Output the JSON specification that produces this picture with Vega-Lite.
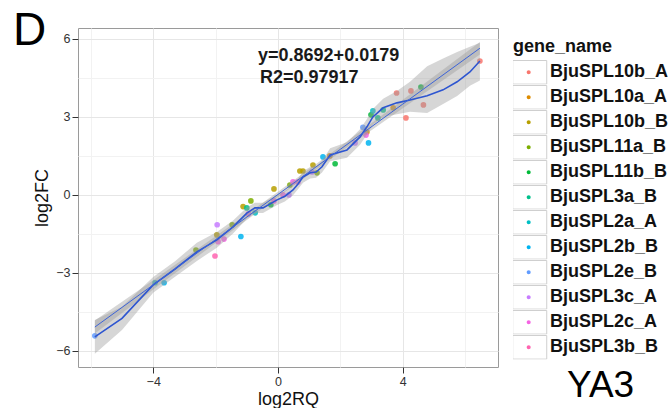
{
  "$schema": "https://vega.github.io/schema/vega-lite/v6.json",
  "width": 420,
  "height": 339,
  "autosize": "none",
  "padding": {"left": 78, "top": 28, "right": 173, "bottom": 41},
  "background": "white",
  "config": {
    "font": "Liberation Sans",
    "view": {"stroke": "#9a9a9a", "strokeWidth": 1},
    "axis": {
      "domain": false,
      "labelFont": "Liberation Sans",
      "labelFontSize": 12.5,
      "labelColor": "#333333",
      "tickColor": "#333333",
      "tickSize": 6,
      "labelPadding": 2,
      "titleFont": "Liberation Sans",
      "titleFontSize": 18,
      "titleFontWeight": "normal",
      "titleColor": "#111111",
      "labelOverlap": false,
      "labelFlush": false,
      "gridWidth": 1
    }
  },
  "datasets": {
    "points": [
      {"gene_name": "BjuSPL2e_B", "x": -5.87, "y": -5.42},
      {"gene_name": "BjuSPL2a_A", "x": -3.94, "y": -3.38},
      {"gene_name": "BjuSPL2b_B", "x": -3.65, "y": -3.38},
      {"gene_name": "BjuSPL11a_B", "x": -2.63, "y": -2.12},
      {"gene_name": "BjuSPL3c_A", "x": -1.95, "y": -1.15},
      {"gene_name": "BjuSPL10b_B", "x": -1.96, "y": -1.54},
      {"gene_name": "BjuSPL2c_A", "x": -1.92, "y": -1.8},
      {"gene_name": "BjuSPL2c_A", "x": -1.73, "y": -1.7},
      {"gene_name": "BjuSPL3b_B", "x": -2.02, "y": -2.35},
      {"gene_name": "BjuSPL11a_B", "x": -1.47, "y": -1.15},
      {"gene_name": "BjuSPL2b_B", "x": -1.19, "y": -1.6},
      {"gene_name": "BjuSPL10b_B", "x": -1.12, "y": -0.45},
      {"gene_name": "BjuSPL11a_B", "x": -0.87, "y": -0.23},
      {"gene_name": "BjuSPL3a_B", "x": -1.0, "y": -0.5},
      {"gene_name": "BjuSPL2c_A", "x": -0.95, "y": -0.73},
      {"gene_name": "BjuSPL2a_A", "x": -0.73, "y": -0.69},
      {"gene_name": "BjuSPL11b_B", "x": -0.23, "y": -0.38},
      {"gene_name": "BjuSPL2c_A", "x": -0.13, "y": -0.23},
      {"gene_name": "BjuSPL10b_B", "x": -0.13, "y": 0.23},
      {"gene_name": "BjuSPL2c_A", "x": 0.16, "y": 0.0},
      {"gene_name": "BjuSPL3c_A", "x": 0.35, "y": 0.0},
      {"gene_name": "BjuSPL11a_B", "x": 0.38, "y": 0.38},
      {"gene_name": "BjuSPL2c_A", "x": 0.48, "y": 0.5},
      {"gene_name": "BjuSPL2c_A", "x": 0.64, "y": 0.5},
      {"gene_name": "BjuSPL10b_B", "x": 0.7, "y": 0.92},
      {"gene_name": "BjuSPL10b_B", "x": 0.8, "y": 0.92},
      {"gene_name": "BjuSPL10b_B", "x": 1.12, "y": 1.15},
      {"gene_name": "BjuSPL3c_A", "x": 1.09, "y": 0.88},
      {"gene_name": "BjuSPL11a_B", "x": 1.25, "y": 0.85},
      {"gene_name": "BjuSPL2b_B", "x": 1.44, "y": 1.46},
      {"gene_name": "BjuSPL10a_A", "x": 1.66, "y": 1.5},
      {"gene_name": "BjuSPL11b_B", "x": 1.83, "y": 1.2},
      {"gene_name": "BjuSPL3c_A", "x": 2.47, "y": 2.0},
      {"gene_name": "BjuSPL2e_B", "x": 2.72, "y": 2.6},
      {"gene_name": "BjuSPL10a_A", "x": 2.85, "y": 2.42},
      {"gene_name": "BjuSPL2c_A", "x": 2.82, "y": 2.3},
      {"gene_name": "BjuSPL2b_B", "x": 2.9, "y": 2.0},
      {"gene_name": "BjuSPL11b_B", "x": 2.98, "y": 3.08},
      {"gene_name": "BjuSPL2a_A", "x": 3.04, "y": 3.23},
      {"gene_name": "BjuSPL3a_B", "x": 3.2, "y": 2.96},
      {"gene_name": "BjuSPL3a_B", "x": 3.37, "y": 3.27},
      {"gene_name": "BjuSPL10a_A", "x": 3.69, "y": 3.35},
      {"gene_name": "BjuSPL10b_A", "x": 3.8, "y": 3.92},
      {"gene_name": "BjuSPL10b_A", "x": 4.26, "y": 4.0},
      {"gene_name": "BjuSPL10b_A", "x": 4.1, "y": 2.96},
      {"gene_name": "BjuSPL11b_B", "x": 4.58, "y": 4.15},
      {"gene_name": "BjuSPL10b_A", "x": 4.66, "y": 3.46},
      {"gene_name": "BjuSPL10b_A", "x": 6.47, "y": 5.15}
    ],
    "loess": [
      {"x": -5.87, "fit": -5.46, "lo": -6.11, "hi": -4.81},
      {"x": -5.0, "fit": -4.75, "lo": -5.2, "hi": -4.3},
      {"x": -4.0, "fit": -3.46, "lo": -3.76, "hi": -3.16},
      {"x": -3.3, "fit": -2.85, "lo": -3.15, "hi": -2.55},
      {"x": -2.6, "fit": -2.19, "lo": -2.54, "hi": -1.84},
      {"x": -1.96, "fit": -1.73, "lo": -2.03, "hi": -1.43},
      {"x": -1.44, "fit": -1.23, "lo": -1.48, "hi": -0.98},
      {"x": -1.0, "fit": -0.7, "lo": -0.92, "hi": -0.48},
      {"x": -0.74, "fit": -0.5, "lo": -0.7, "hi": -0.3},
      {"x": -0.48, "fit": -0.5, "lo": -0.7, "hi": -0.3},
      {"x": -0.03, "fit": -0.19, "lo": -0.39, "hi": 0.01},
      {"x": 0.22, "fit": -0.05, "lo": -0.25, "hi": 0.15},
      {"x": 0.48, "fit": 0.19, "lo": -0.01, "hi": 0.39},
      {"x": 0.64, "fit": 0.42, "lo": 0.22, "hi": 0.62},
      {"x": 0.8, "fit": 0.69, "lo": 0.47, "hi": 0.91},
      {"x": 1.03, "fit": 0.85, "lo": 0.63, "hi": 1.07},
      {"x": 1.22, "fit": 0.88, "lo": 0.66, "hi": 1.1},
      {"x": 1.41, "fit": 1.08, "lo": 0.86, "hi": 1.3},
      {"x": 1.67, "fit": 1.54, "lo": 1.29, "hi": 1.79},
      {"x": 2.21, "fit": 1.73, "lo": 1.43, "hi": 2.03},
      {"x": 2.63, "fit": 2.23, "lo": 1.93, "hi": 2.53},
      {"x": 2.85, "fit": 2.62, "lo": 2.32, "hi": 2.92},
      {"x": 3.04, "fit": 3.0, "lo": 2.7, "hi": 3.3},
      {"x": 3.37, "fit": 3.35, "lo": 3.0, "hi": 3.7},
      {"x": 3.81, "fit": 3.54, "lo": 3.1, "hi": 4.0},
      {"x": 4.23, "fit": 3.65, "lo": 3.2, "hi": 4.35},
      {"x": 4.78, "fit": 3.81, "lo": 3.15, "hi": 4.95},
      {"x": 5.29, "fit": 4.04, "lo": 3.5, "hi": 5.25},
      {"x": 5.74, "fit": 4.35, "lo": 3.8, "hi": 5.5},
      {"x": 6.15, "fit": 4.73, "lo": 4.2, "hi": 5.7},
      {"x": 6.47, "fit": 5.15, "lo": 4.4, "hi": 5.85}
    ],
    "linear": [
      {"x": -5.87, "fit": -5.084, "lo": -5.33, "hi": -4.83},
      {"x": -4.0, "fit": -3.459, "lo": -3.64, "hi": -3.28},
      {"x": -2.0, "fit": -1.72, "lo": -1.85, "hi": -1.59},
      {"x": 0.0, "fit": 0.018, "lo": -0.08, "hi": 0.12},
      {"x": 2.0, "fit": 1.756, "lo": 1.65, "hi": 1.87},
      {"x": 4.0, "fit": 3.495, "lo": 3.33, "hi": 3.66},
      {"x": 6.47, "fit": 5.642, "lo": 5.4, "hi": 5.88}
    ]
  },
  "layer": [
    {
      "data": {"name": "points"},
      "mark": {"type": "circle", "size": 32, "opacity": 0.85},
      "encoding": {
        "x": {
          "field": "x", "type": "quantitative",
          "scale": {"domain": [-6.41, 7.05], "nice": false, "zero": false},
          "axis": {
            "title": "log2RQ",
            "values": [-6, -4, -2, 0, 2, 4, 6],
            "labelExpr": "datum.value % 4 === 0 ? datum.label : ''",
            "tickOpacity": {"condition": {"test": "datum.value % 4 === 0", "value": 1}, "value": 0},
            "gridColor": {"condition": {"test": "datum.value % 4 === 0", "value": "#e6e6e6"}, "value": "#f2f2f2"},
            "titlePadding": 3
          }
        },
        "y": {
          "field": "y", "type": "quantitative",
          "scale": {"domain": [-6.62, 6.42], "nice": false, "zero": false},
          "axis": {
            "title": "log2FC",
            "values": [-6, -4.5, -3, -1.5, 0, 1.5, 3, 4.5, 6],
            "labelExpr": "datum.value % 3 === 0 ? datum.label : ''",
            "tickOpacity": {"condition": {"test": "datum.value % 3 === 0", "value": 1}, "value": 0},
            "gridColor": {"condition": {"test": "datum.value % 3 === 0", "value": "#e6e6e6"}, "value": "#f2f2f2"},
            "titlePadding": 4
          }
        },
        "color": {
          "field": "gene_name", "type": "nominal",
          "sort": ["BjuSPL10b_A", "BjuSPL10a_A", "BjuSPL10b_B", "BjuSPL11a_B", "BjuSPL11b_B", "BjuSPL3a_B", "BjuSPL2a_A", "BjuSPL2b_B", "BjuSPL2e_B", "BjuSPL3c_A", "BjuSPL2c_A", "BjuSPL3b_B"],
          "scale": {"range": ["#F8766D", "#DE8C00", "#B79F00", "#7CAE00", "#00BA38", "#00C08B", "#00BFC4", "#00B4F0", "#619CFF", "#C77CFF", "#F564E3", "#FF64B0"]},
          "legend": {
            "orient": "none", "legendX": 435, "legendY": 10,
            "title": " ", "titleFont": "Liberation Sans", "titleFontSize": 18, "titleFontWeight": "bold", "titleColor": "#111111", "titlePadding": 4,
            "labelFont": "Liberation Sans", "labelFontSize": 18, "labelFontWeight": "bold", "labelColor": "#111111", "labelOffset": 12, "labelExpr": "''",
            "symbolType": "M-1.085,-1.0M1.8,1.0M0.1,0A0.17,0.17 0 1,0 0.44,0A0.17,0.17 0 1,0 0.1,0Z",
            "symbolSize": 557, "symbolStrokeWidth": 1, "symbolOpacity": 1,
            "clipHeight": 24.6, "rowPadding": 0
          }
        }
      }
    },
    {
      "data": {"name": "loess"},
      "mark": {"type": "area", "color": "#999999", "opacity": 0.4},
      "encoding": {
        "x": {"field": "x", "type": "quantitative"},
        "y": {"field": "lo", "type": "quantitative"},
        "y2": {"field": "hi"}
      }
    },
    {
      "data": {"name": "linear"},
      "mark": {"type": "area", "color": "#999999", "opacity": 0.4},
      "encoding": {
        "x": {"field": "x", "type": "quantitative"},
        "y": {"field": "lo", "type": "quantitative"},
        "y2": {"field": "hi"}
      }
    },
    {
      "data": {"name": "loess"},
      "mark": {"type": "line", "color": "#2d55d0", "strokeWidth": 1.6},
      "encoding": {
        "x": {"field": "x", "type": "quantitative"},
        "y": {"field": "fit", "type": "quantitative"}
      }
    },
    {
      "data": {"name": "linear"},
      "mark": {"type": "line", "color": "#3d64d8", "strokeWidth": 1},
      "encoding": {
        "x": {"field": "x", "type": "quantitative"},
        "y": {"field": "fit", "type": "quantitative"}
      }
    },
    {
      "data": {"values": [{}]},
      "mark": {"type": "text", "text": "y=0.8692+0.0179", "font": "Liberation Sans", "fontSize": 18, "fontWeight": "bold", "color": "#1a1a1a", "align": "left", "baseline": "alphabetic"},
      "encoding": {"x": {"datum": -0.64, "type": "quantitative"}, "y": {"datum": 5.15, "type": "quantitative"}}
    },
    {
      "data": {"values": [{}]},
      "mark": {"type": "text", "text": "R2=0.97917", "font": "Liberation Sans", "fontSize": 18, "fontWeight": "bold", "color": "#1a1a1a", "align": "left", "baseline": "alphabetic"},
      "encoding": {"x": {"datum": -0.58, "type": "quantitative"}, "y": {"datum": 4.31, "type": "quantitative"}}
    },
    {
      "data": {"values": [{}]},
      "mark": {"type": "text", "text": "D", "font": "Liberation Sans", "fontSize": 46, "color": "#000000", "align": "left", "baseline": "alphabetic"},
      "encoding": {"x": {"datum": -8.49, "type": "quantitative"}, "y": {"datum": 5.77, "type": "quantitative"}}
    },
    {
      "data": {"values": [{}]},
      "mark": {"type": "text", "text": "YA3", "font": "Liberation Sans", "fontSize": 37, "color": "#000000", "align": "left", "baseline": "alphabetic"},
      "encoding": {"x": {"datum": 9.26, "type": "quantitative"}, "y": {"datum": -7.77, "type": "quantitative"}}
    },
    {
      "data": {"values": []},
      "mark": {"type": "point", "filled": false},
      "encoding": {
        "stroke": {
          "field": "gene_name", "type": "nominal",
          "scale": {
            "domain": ["BjuSPL10b_A", "BjuSPL10a_A", "BjuSPL10b_B", "BjuSPL11a_B", "BjuSPL11b_B", "BjuSPL3a_B", "BjuSPL2a_A", "BjuSPL2b_B", "BjuSPL2e_B", "BjuSPL3c_A", "BjuSPL2c_A", "BjuSPL3b_B"],
            "range": ["#cfcfcf"]
          },
          "legend": {
            "orient": "none", "legendX": 435, "legendY": 10,
            "title": "gene_name", "titleFont": "Liberation Sans", "titleFontSize": 18, "titleFontWeight": "bold", "titleColor": "#111111", "titlePadding": 4,
            "labelFont": "Liberation Sans", "labelFontSize": 18, "labelFontWeight": "bold", "labelColor": "#111111", "labelOffset": 12,
            "symbolType": "M-1.085,-1.0H1.8V1.0H-1.085Z",
            "symbolSize": 557, "symbolStrokeWidth": 1, "symbolFillColor": "transparent", "symbolOpacity": 1,
            "clipHeight": 24.6, "rowPadding": 0
          }
        }
      }
    }
  ]
}
